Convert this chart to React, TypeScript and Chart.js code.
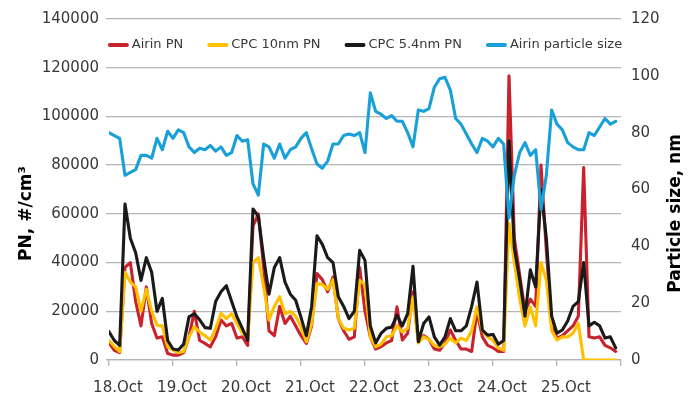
import React, { useEffect, useRef } from 'react';
import { Chart, registerables } from 'chart.js';

Chart.register(...registerables);

// Time axis: one value every 2 hours, starting 18.Oct 00:00
const stepHours = 2;
const dayLabels = ['18.Oct', '19.Oct', '20.Oct', '21.Oct', '22.Oct', '23.Oct', '24.Oct', '25.Oct', ''];
const pnTicks = [0, 20000, 40000, 60000, 80000, 100000, 120000, 140000];
const sizeTicks = [0, 20, 40, 60, 80, 100, 120];

const airinPN = [
  7000, 4000, 3000, 38000, 40000, 24000, 14000, 30000, 15000, 9000, 9500, 2700,
  2000, 2000, 3000, 9500, 20000, 8000, 6800, 5400, 9500, 16400, 14000, 15000,
  9000, 9500, 6000, 55000, 60000, 38000, 12000, 10000, 22000, 15000, 18000, 14000,
  10000, 6800, 14000, 35500, 33000, 28000, 34000, 17000, 12000, 8500, 9500, 38000,
  20000, 9500, 4500, 5500, 7000, 8000, 21800, 8200, 11000, 28000, 8000, 10000,
  8500, 4500, 4000, 7000, 12300, 8000, 4500, 4500, 3500, 20000, 9500, 6000,
  5000, 3500, 3500, 116700, 50000, 35000, 20000, 25000, 22000, 80000, 45000, 14000,
  9000, 10000, 12000, 14000, 18000, 79000, 9500, 9000, 9500, 6000, 5000, 3500,
];

const cpc10nm = [
  8000, 5500, 3400, 36000, 32000, 30000, 20000, 29000, 20000, 14300, 14000, 5400,
  4100, 3000, 3500, 9500, 13600, 11500, 10000, 8200, 13000, 19100, 17000, 19000,
  15000, 11000, 9000, 40000, 42000, 30000, 16400, 22000, 26000, 19000, 20000, 18000,
  13600, 7500, 15000, 31400, 31000, 29000, 33000, 17000, 13000, 12300, 13000, 32700,
  31000, 9500, 5400, 6500, 9500, 10000, 14000, 11500, 13000, 25900, 7000, 9500,
  8500, 6000, 5400, 6500, 9000, 7000, 9000, 8000, 12000, 21800, 12000, 9500,
  8000, 5000, 4000, 56000, 40000, 25000, 14000, 21800, 14000, 40000, 32700, 12000,
  8200, 9500, 9500, 11000, 15000, 0, 0, 0, 0, 0, 0, 0,
];

const cpc54nm = [
  11600, 8000, 6000, 64000, 50000, 44000, 32700, 42000, 36000, 20000, 25300, 8000,
  4500, 4100, 6500, 17700, 19000, 16500, 13300, 13000, 24000, 28000, 30500, 24000,
  17700, 13000, 8200, 62000, 59000, 42000, 27000, 38000, 42000, 32000, 27000, 24500,
  17500, 10000, 22000, 51000, 47500, 42000, 40000, 26000, 22000, 17000, 20000, 45000,
  40900, 14000, 7000, 10900, 13000, 13500, 18400, 14000, 19000, 38500, 7500, 15000,
  17700, 9500, 6100, 9500, 17000, 12000, 12000, 14000, 22000, 32000, 12300, 10200,
  10500, 6500, 8000, 90000, 46000, 33000, 18000, 37000, 30000, 70000, 50000, 18000,
  11000, 12300, 16000, 22000, 24000, 40000, 14000, 15500, 14000, 9000, 9500, 5000,
];

const airinSize = [
  80, 79, 78, 65, 66, 67, 72, 72, 71, 78, 74, 80.5,
  78, 81, 80, 75, 73, 74.5, 74, 75.5, 73.5, 75, 72, 73,
  79, 77, 77.5, 62, 58, 76, 75, 71, 76, 71, 74, 75,
  78, 80, 74.3, 69, 67.5, 70, 76, 76, 79, 79.5, 79, 80,
  73, 94, 87.5, 86.5, 85, 86, 84, 84, 80, 75, 88, 87.5,
  88.5, 96, 99, 99.5, 95, 85, 83, 79.5, 76, 73, 78, 77,
  75, 78, 76, 50, 65, 73, 76.5, 72, 74, 53, 65, 88,
  83, 81, 76.5, 75, 74, 74, 80, 79, 82, 85, 83, 84,
];

const toPoints = (arr: number[]) => arr.map((v, i) => ({ x: i * stepHours, y: v }));

const FONT = "'DejaVu Sans', sans-serif";
const GRID = '#b5b5b5';
const TEXT = '#383838';

const overlayPlugin = {
  id: 'overlay',
  afterDraw(chart: any) {
    const { ctx, chartArea } = chart;
    ctx.save();
    // legend
    ctx.font = `13px ${FONT}`;
    ctx.textBaseline = 'middle';
    ctx.textAlign = 'left';
    const items = chart.data.datasets.map((ds: any) => ({ text: ds.label, color: ds.borderColor }));
    const sw = 21;
    const gap = 3;
    const spacing = 24;
    const widths = items.map((it: any) => sw + gap + ctx.measureText(it.text).width);
    const total = widths.reduce((a: number, b: number) => a + b, 0) + spacing * (items.length - 1);
    let x = (chartArea.left + chartArea.right) / 2 - total / 2;
    const y = chartArea.top + 26;
    items.forEach((it: any, i: number) => {
      ctx.beginPath();
      ctx.lineCap = 'round';
      ctx.strokeStyle = it.color;
      ctx.lineWidth = 4;
      ctx.moveTo(x + 2, y);
      ctx.lineTo(x + sw - 2, y);
      ctx.stroke();
      ctx.fillStyle = TEXT;
      ctx.fillText(it.text, x + sw + gap, y);
      x += widths[i] + spacing;
    });
    // axis titles
    ctx.font = `bold 17px ${FONT}`;
    ctx.fillStyle = '#000000';
    ctx.textAlign = 'center';
    const ty = (chartArea.top + chartArea.bottom) / 2 + 24;
    ctx.save();
    ctx.translate(27, ty);
    ctx.rotate(-Math.PI / 2);
    ctx.fillText('PN, #/cm³', 0, 0);
    ctx.restore();
    ctx.save();
    ctx.translate(chart.width - 16, ty);
    ctx.rotate(-Math.PI / 2);
    ctx.fillText('Particle size, nm', 0, 0);
    ctx.restore();
    ctx.restore();
  },
};

export default function App() {
  const ref = useRef<HTMLCanvasElement | null>(null);

  useEffect(() => {
    if (!ref.current) return;
    const chart = new Chart(ref.current, {
      type: 'line',
      data: {
        datasets: [
          { label: 'Airin PN', data: toPoints(airinPN), borderColor: '#c8232c', backgroundColor: '#c8232c', yAxisID: 'y', order: 3 },
          { label: 'CPC 10nm PN', data: toPoints(cpc10nm), borderColor: '#ffc000', backgroundColor: '#ffc000', yAxisID: 'y', order: 2 },
          { label: 'CPC 5.4nm PN', data: toPoints(cpc54nm), borderColor: '#1a1a1a', backgroundColor: '#1a1a1a', yAxisID: 'y', order: 1 },
          { label: 'Airin particle size', data: toPoints(airinSize), borderColor: '#1aa0d8', backgroundColor: '#1aa0d8', yAxisID: 'y1', order: 0 },
        ],
      },
      options: {
        animation: false,
        responsive: false,
        layout: { padding: { top: 18, left: 0, right: 0, bottom: 0 } },
        plugins: { legend: { display: false }, tooltip: { enabled: false } },
        elements: {
          point: { radius: 0 },
          line: { borderWidth: 3.1, tension: 0, borderJoinStyle: 'round', borderCapStyle: 'round' },
        },
        scales: {
          x: {
            type: 'linear',
            min: 0,
            max: 192,
            afterFit: (s: any) => { s.height = 43; },
            afterBuildTicks: (s: any) => { s.ticks = dayLabels.map((_, i) => ({ value: i * 24 })); },
            ticks: {
              autoSkip: false,
              maxRotation: 0,
              labelOffset: 9,
              padding: 13,
              color: TEXT,
              font: { family: FONT, size: 15 },
              callback: (v: any) => dayLabels[Math.round(Number(v) / 24)] ?? '',
            },
            grid: { drawOnChartArea: false, drawTicks: true, tickLength: 6, color: GRID, lineWidth: 1.3 },
            border: { display: true, color: GRID, width: 1.3 },
          },
          y: {
            position: 'left',
            min: 0,
            max: 140000,
            afterFit: (s: any) => { s.width = 109; },
            afterBuildTicks: (s: any) => { s.ticks = pnTicks.map((v) => ({ value: v })); },
            ticks: { padding: 7, color: TEXT, font: { family: FONT, size: 15 }, callback: (v: any) => String(v) },
            grid: { color: GRID, lineWidth: 1.3, tickLength: 3 },
            border: { display: false },
          },
          y1: {
            position: 'right',
            min: 0,
            max: 120,
            afterFit: (s: any) => { s.width = 71; },
            afterBuildTicks: (s: any) => { s.ticks = sizeTicks.map((v) => ({ value: v })); },
            ticks: { padding: 10, color: TEXT, font: { family: FONT, size: 15 }, callback: (v: any) => String(v) },
            grid: { drawOnChartArea: false, drawTicks: false },
            border: { display: false },
          },
        },
      } as any,
      plugins: [overlayPlugin],
    });
    return () => chart.destroy();
  }, []);

  return (
    <div style={{ position: 'fixed', left: 0, top: 0, width: 692, height: 403, background: '#ffffff' }}>
      <canvas ref={ref} width={692} height={403} style={{ display: 'block' }} />
    </div>
  );
}
